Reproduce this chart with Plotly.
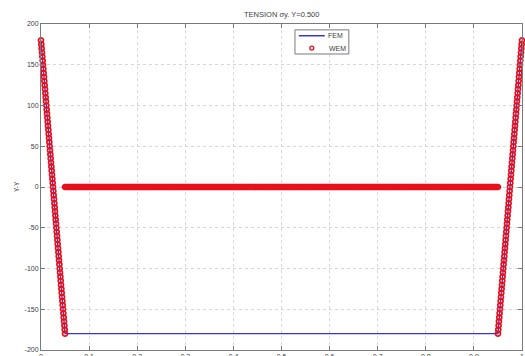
import numpy as np
import plotly.graph_objects as go

# ---- data ----
FEM_X = [0.0, 0.05, 0.95, 1.0]
FEM_Y = [180, -180, -180, 180]

WEM_LEFT_Y = [180, 175, 170, 165, 160, 155, 150, 145, 140, 135, 130, 125, 120, 115, 110,
              105, 100, 95, 90, 85, 80, 75, 70, 65, 60, 55, 50, 45, 40, 35, 30, 25, 20, 15,
              10, 5, 0, -5, -10, -15, -20, -25, -30, -35, -40, -45, -50, -55, -60, -65, -70,
              -75, -80, -85, -90, -95, -100, -105, -110, -115, -120, -125, -130, -135, -140,
              -145, -150, -155, -160, -165, -170, -175, -180]
WEM_RIGHT_Y = WEM_LEFT_Y[::-1]
WEM_MID_VALUE = 0.0
N_MID = 361

X_TICKS = [0, 0.1, 0.2, 0.3, 0.4, 0.5, 0.6, 0.7, 0.8, 0.9, 1.0]
X_TICKTEXT = ["0", "0.1", "0.2", "0.3", "0.4", "0.5", "0.6", "0.7", "0.8", "0.9", "1"]
Y_TICKS = [-200, -150, -100, -50, 0, 50, 100, 150, 200]
Y_TICKTEXT = ["-200", "-150", "-100", "-50", "0", "50", "100", "150", "200"]

TITLE = "TENSION σy. Y=0.500"
Y_TITLE = "Y-Y"
LEGEND_NAMES = ["FEM", "WEM"]

FEM_COLOR = "#3434d8"
WEM_COLOR = "#e6101c"
TEXT_COLOR = "#404040"
AXIS_COLOR = "#7a7a7a"
FONT = "Liberation Sans, Arial, sans-serif"

# sampling grid of the WEM evaluation points
wem_x = np.concatenate([
    np.linspace(0.0, 0.05, len(WEM_LEFT_Y)),
    np.linspace(0.05, 0.95, N_MID),
    np.linspace(0.95, 1.0, len(WEM_RIGHT_Y)),
])
wem_y = WEM_LEFT_Y + [WEM_MID_VALUE] * N_MID + WEM_RIGHT_Y

fig = go.Figure()
fig.add_trace(go.Scatter(x=FEM_X, y=FEM_Y, mode="lines", name=LEGEND_NAMES[0],
                         line=dict(color=FEM_COLOR, width=1.3), cliponaxis=False))
fig.add_trace(go.Scatter(x=wem_x, y=wem_y, mode="markers", name=LEGEND_NAMES[1],
                         marker=dict(symbol="circle-open", size=5, color=WEM_COLOR,
                                     line=dict(width=1.7, color=WEM_COLOR)),
                         cliponaxis=False))

axis_common = dict(
    showline=True, linecolor=AXIS_COLOR, linewidth=1, mirror="ticks",
    ticks="inside", ticklen=4, tickcolor=AXIS_COLOR,
    showgrid=True, gridcolor="#d6d6d6", griddash="dot", gridwidth=1,
    zeroline=False, automargin=False,
    tickfont=dict(size=7, color=TEXT_COLOR, family=FONT),
)
fig.update_xaxes(range=[0, 1], tickvals=X_TICKS, ticktext=X_TICKTEXT, **axis_common)
fig.update_yaxes(range=[-200, 200], tickvals=Y_TICKS, ticktext=Y_TICKTEXT, **axis_common)

# Manual legend box (matches the small MATLAB-style legend)
shapes = [
    dict(type="rect", xref="paper", yref="paper", x0=0.528, x1=0.640, y0=0.908, y1=0.982,
         line=dict(color=AXIS_COLOR, width=1), fillcolor="white", layer="above"),
    dict(type="line", xref="paper", yref="paper", x0=0.536, x1=0.590, y0=0.964, y1=0.964,
         line=dict(color=FEM_COLOR, width=1.5), layer="above"),
    dict(type="circle", xref="paper", yref="paper", xsizemode="pixel", ysizemode="pixel",
         xanchor=0.563, yanchor=0.926, x0=-2, x1=2, y0=-2, y1=2,
         line=dict(color=WEM_COLOR, width=1.3), layer="above"),
]
annotations = [
    dict(text=LEGEND_NAMES[0], xref="paper", yref="paper", x=0.593, y=0.964,
         xanchor="left", yanchor="middle", showarrow=False,
         font=dict(size=7, color=TEXT_COLOR, family=FONT)),
    dict(text=LEGEND_NAMES[1], xref="paper", yref="paper", x=0.595, y=0.926,
         xanchor="left", yanchor="middle", showarrow=False,
         font=dict(size=7, color=TEXT_COLOR, family=FONT)),
    dict(text=TITLE, xref="paper", yref="paper", x=0.5, y=1.03,
         xanchor="center", yanchor="middle", showarrow=False,
         font=dict(size=7.5, color=TEXT_COLOR, family=FONT)),
    dict(text=Y_TITLE, xref="paper", yref="paper", x=-0.052, y=0.503, textangle=-90,
         xanchor="center", yanchor="middle", showarrow=False,
         font=dict(size=6.5, color=TEXT_COLOR, family=FONT)),
]

fig.update_layout(
    width=525, height=356,
    margin=dict(l=41, r=3, t=24, b=6),
    paper_bgcolor="white", plot_bgcolor="white",
    font=dict(family=FONT, size=7, color=TEXT_COLOR),
    showlegend=False,
    shapes=shapes, annotations=annotations,
)

# remove the default 8px page margin so the figure fills the window exactly
fig.write_html(
    "out.html",
    config={"displayModeBar": False},
    post_script="document.body.style.margin='0';document.body.style.overflow='hidden';",
)
